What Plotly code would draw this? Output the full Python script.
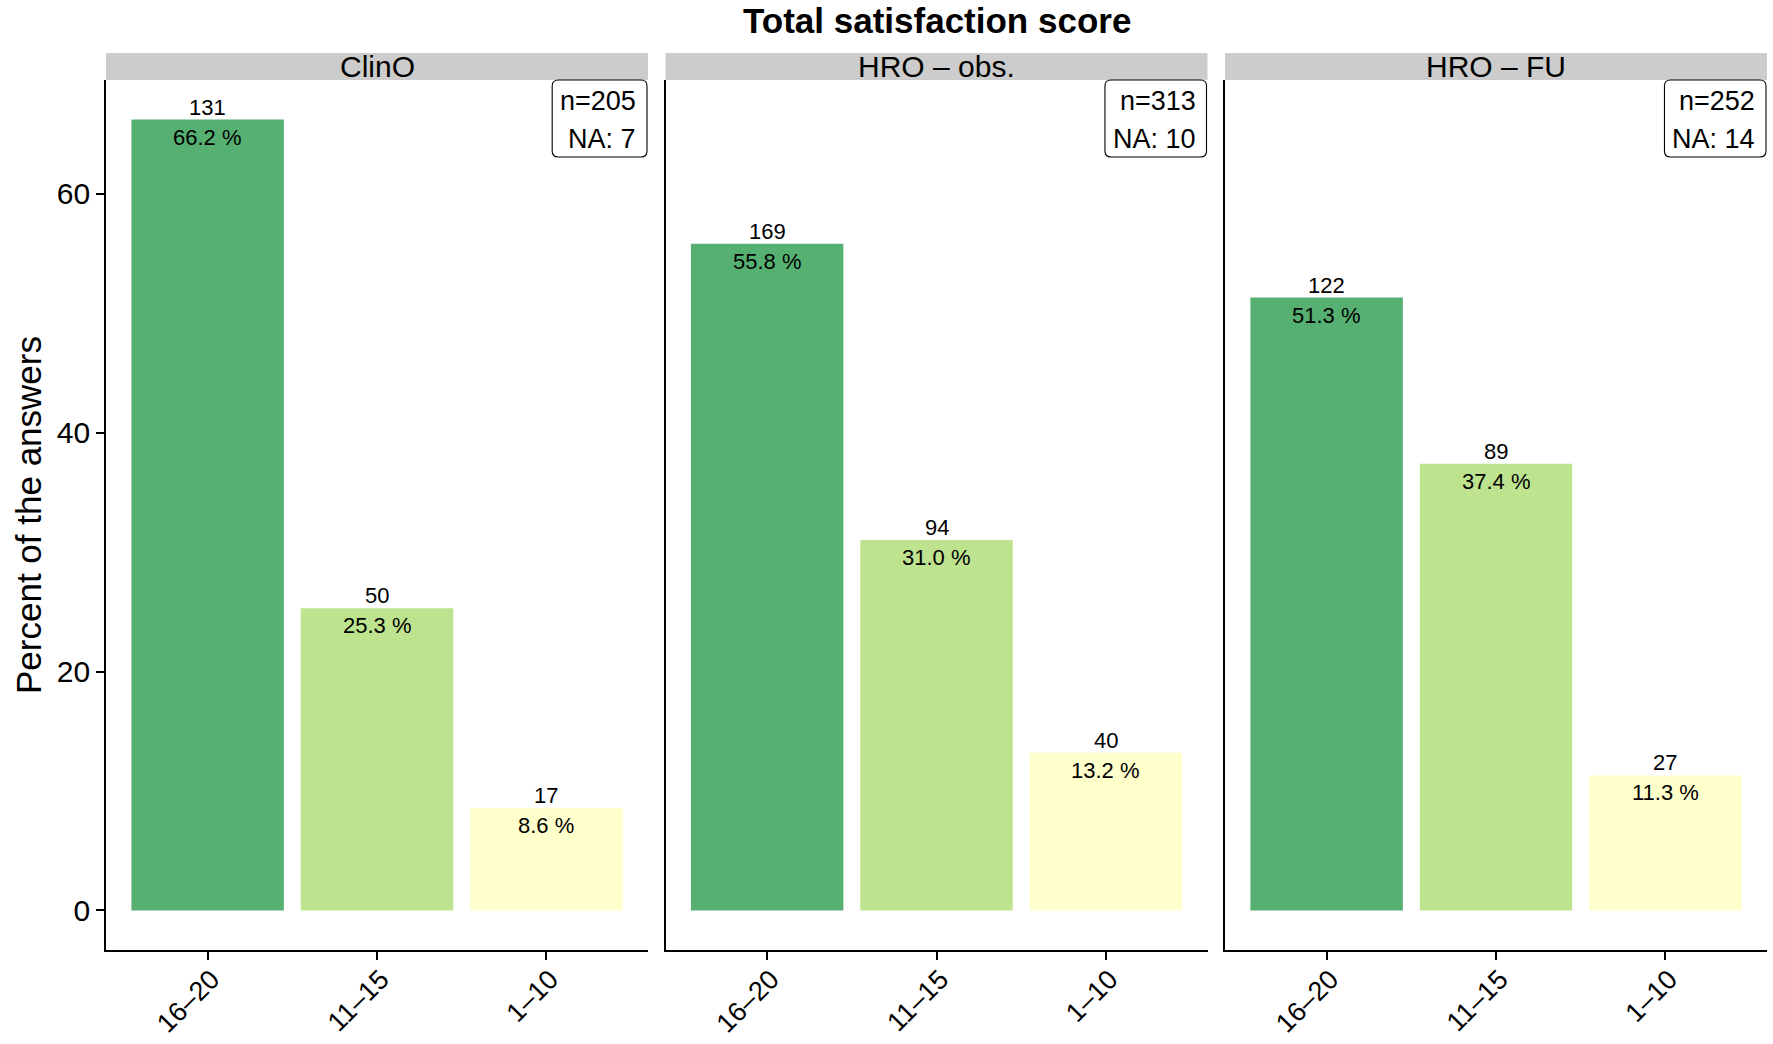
import plotly.graph_objects as go

# ---- data ----
panels = ["ClinO", "HRO – obs.", "HRO – FU"]
categories = ["16–20", "11–15", "1–10"]
counts_clino = [131, 50, 17]
counts_hro_obs = [169, 94, 40]
counts_hro_fu = [122, 89, 27]
pct_clino = [66.2, 25.3, 8.6]
pct_hro_obs = [55.8, 31.0, 13.2]
pct_hro_fu = [51.3, 37.4, 11.3]
n_total = [205, 313, 252]
n_missing = [7, 10, 14]
y_ticks = [0, 20, 40, 60]

counts = [counts_clino, counts_hro_obs, counts_hro_fu]
pcts = [pct_clino, pct_hro_obs, pct_hro_fu]

bar_colors = ["#55B071", "#BEE38F", "#FFFFCC"]

W, H = 1773, 1044
ML, MR, MT, MB = 106, 6, 80, 94
plot_w = W - ML - MR
plot_h = H - MT - MB
panel_px = 542
gap_px = (plot_w - 3 * panel_px) / 2

FONT = "Liberation Sans, Arial, Helvetica, sans-serif"
BOX_FONT = 27

# approximate Arial advance widths (em) for measuring box text
CHAR_W = {"n": 0.556, "=": 0.584, "N": 0.722, "A": 0.667, ":": 0.278, " ": 0.278}


def text_width(s, size):
    return sum(CHAR_W.get(c, 0.556) for c in s) * size


fig = go.Figure()
layout_axes = {}
annotations = []
shapes = []

ymax = max(max(p) for p in pcts)
pad = ymax * 0.05
yrange = [-pad, ymax + pad]


def px(v):
    return v / plot_w


def py(v):
    return v / plot_h


for i, name in enumerate(panels):
    k = "" if i == 0 else str(i + 1)
    x0 = i * (panel_px + gap_px) / plot_w
    x1 = (i * (panel_px + gap_px) + panel_px) / plot_w
    fig.add_trace(go.Bar(
        x=categories, y=pcts[i], width=0.9,
        marker=dict(color=bar_colors, line=dict(width=0)),
        xaxis="x" + k, yaxis="y" + k, showlegend=False, hoverinfo="skip",
    ))
    layout_axes["xaxis" + k] = dict(
        domain=[x0, x1], anchor="y" + k, type="category",
        categoryorder="array", categoryarray=categories,
        range=[-0.6, 2.6], showgrid=False, zeroline=False, automargin=False,
        showline=True, linecolor="black", linewidth=1.6,
        ticks="outside", ticklen=8, tickwidth=1.6, tickcolor="black",
        tickangle=-45, ticklabelstandoff=-7, ticklabelshift=4,
        tickfont=dict(size=27, color="black", family=FONT),
    )
    layout_axes["yaxis" + k] = dict(
        domain=[0, 1], anchor="x" + k, range=yrange, automargin=False,
        showgrid=False, zeroline=False,
        showline=True, linecolor="black", linewidth=1.6,
        tickvals=y_ticks if i == 0 else [],
        ticks="outside" if i == 0 else "", ticklen=8, tickwidth=1.6, tickcolor="black",
        showticklabels=(i == 0),
        tickfont=dict(size=30, color="black", family=FONT),
    )
    # strip
    shapes.append(dict(type="rect", xref="paper", yref="paper",
                       x0=x0, x1=x1, y0=1.0, y1=1 + 27 / plot_h,
                       fillcolor="#CCCCCC", line=dict(width=0), layer="below"))
    annotations.append(dict(text=name, xref="paper", yref="paper",
                            x=(x0 + x1) / 2, y=1 + 13.5 / plot_h,
                            xanchor="center", yanchor="middle", showarrow=False,
                            font=dict(size=30, color="black", family=FONT)))
    # n / NA box (rounded rectangle + two right-aligned lines)
    line1 = f"n={n_total[i]}"
    line2 = f"NA: {n_missing[i]}"
    tw = max(text_width(line1, BOX_FONT), text_width(line2, BOX_FONT))
    bw_px, bh_px, r_px = tw + 19, 77, 6
    right_px = x1 * plot_w - 1
    left_px = right_px - bw_px
    top_px = plot_h
    bot_px = plot_h - bh_px
    path = (f"M {px(left_px + r_px)},{py(top_px)} L {px(right_px - r_px)},{py(top_px)} "
            f"Q {px(right_px)},{py(top_px)} {px(right_px)},{py(top_px - r_px)} "
            f"L {px(right_px)},{py(bot_px + r_px)} "
            f"Q {px(right_px)},{py(bot_px)} {px(right_px - r_px)},{py(bot_px)} "
            f"L {px(left_px + r_px)},{py(bot_px)} "
            f"Q {px(left_px)},{py(bot_px)} {px(left_px)},{py(bot_px + r_px)} "
            f"L {px(left_px)},{py(top_px - r_px)} "
            f"Q {px(left_px)},{py(top_px)} {px(left_px + r_px)},{py(top_px)} Z")
    shapes.append(dict(type="path", path=path, xref="paper", yref="paper",
                       fillcolor="white", line=dict(color="black", width=1.1)))
    for txt, dy in ((line1, 21), (line2, 59)):
        annotations.append(dict(text=txt, xref="paper", yref="paper",
                                x=px(right_px - 9), y=py(top_px - dy),
                                xanchor="right", yanchor="middle", showarrow=False,
                                font=dict(size=BOX_FONT, color="black", family=FONT)))
    # bar labels
    for j, cat in enumerate(categories):
        annotations.append(dict(text=str(counts[i][j]), x=cat, y=pcts[i][j],
                                xref="x" + k, yref="y" + k, xanchor="center",
                                yanchor="bottom", yshift=-2, showarrow=False,
                                font=dict(size=22, color="black", family=FONT)))
        annotations.append(dict(text=f"{pcts[i][j]:.1f} %", x=cat, y=pcts[i][j],
                                xref="x" + k, yref="y" + k, xanchor="center",
                                yanchor="top", yshift=-3, showarrow=False,
                                font=dict(size=22, color="black", family=FONT)))

# title
annotations.append(dict(text="<b>Total satisfaction score</b>", xref="paper", yref="paper",
                        x=0.5, y=1 + (MT - 20) / plot_h, xanchor="center", yanchor="middle",
                        showarrow=False, font=dict(size=35, color="black", family=FONT)))
# y axis title
annotations.append(dict(text="Percent of the answers", xref="paper", yref="paper",
                        x=(28 - ML) / plot_w, y=0.5, xanchor="center", yanchor="middle",
                        textangle=-90, showarrow=False,
                        font=dict(size=35, color="black", family=FONT)))

fig.update_layout(
    width=W, height=H, autosize=False,
    margin=dict(l=ML, r=MR, t=MT, b=MB, autoexpand=False),
    paper_bgcolor="white", plot_bgcolor="white",
    showlegend=False, bargap=0.1,
    annotations=annotations, shapes=shapes,
    font=dict(family=FONT, color="black"),
    **layout_axes,
)

fig.write_html(
    "out.html",
    config={"displayModeBar": False},
    post_script="document.body.style.margin='0';document.body.style.overflow='hidden';",
)
